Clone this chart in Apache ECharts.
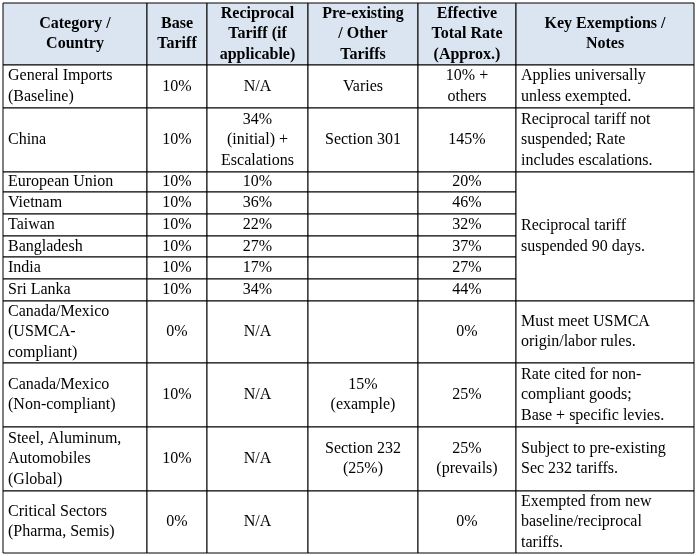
<!DOCTYPE html>
<html><head><meta charset="utf-8">
<script src="https://cdn.jsdelivr.net/npm/echarts@6/dist/echarts.min.js"></script>
<style>html,body{margin:0;padding:0;background:#fff}#c{width:697px;height:556px}</style>
</head><body><div id="c"></div>
<script>
// table content
const headers = ['Category /\nCountry', 'Base\nTariff', 'Reciprocal\nTariff (if\napplicable)', 'Pre-existing\n/ Other\nTariffs', 'Effective\nTotal Rate\n(Approx.)', 'Key Exemptions /\nNotes'];
const categories = ['General Imports\n(Baseline)', 'China', 'European Union', 'Vietnam', 'Taiwan', 'Bangladesh', 'India', 'Sri Lanka', 'Canada/Mexico\n(USMCA-\ncompliant)', 'Canada/Mexico\n(Non-compliant)', 'Steel, Aluminum,\nAutomobiles\n(Global)', 'Critical Sectors\n(Pharma, Semis)'];
const baseTariff = ['10%', '10%', '10%', '10%', '10%', '10%', '10%', '10%', '0%', '10%', '10%', '0%'];
const reciprocal = ['N/A', '34%\n(initial) +\nEscalations', '10%', '36%', '22%', '27%', '17%', '34%', 'N/A', 'N/A', 'N/A', 'N/A'];
const preExisting = ['Varies', 'Section 301', '', '', '', '', '', '', '', '15%\n(example)', 'Section 232\n(25%)', ''];
const effective = ['10% +\nothers', '145%', '20%', '46%', '32%', '37%', '27%', '44%', '0%', '25%', '25%\n(prevails)', '0%'];
// notes: [text, first row, row span]
const notes = [
  ['Applies universally\nunless exempted.', 0, 1],
  ['Reciprocal tariff not\nsuspended; Rate\nincludes escalations.', 1, 1],
  ['Reciprocal tariff\nsuspended 90 days.', 2, 6],
  ['Must meet USMCA\norigin/labor rules.', 8, 1],
  ['Rate cited for non-\ncompliant goods;\nBase + specific levies.', 9, 1],
  ['Subject to pre-existing\nSec 232 tariffs.', 10, 1],
  ['Exempted from new\nbaseline/reciprocal\ntariffs.', 11, 1]
];

// layout
const colX = [3, 147, 207, 308, 418, 516, 694];
const rowY = [3, 65, 108, 172, 192, 214, 236, 257, 279, 301, 363, 427, 491, 553];
const font = '"Liberation Serif", "Times New Roman", serif';

const g = [];
function cell(c0, c1, r0, r1, text, align, bold, fill) {
  const x = colX[c0], y = rowY[r0], w = colX[c1] - x, h = rowY[r1] - y;
  g.push({ type: 'rect', shape: { x, y, width: w, height: h },
    style: { fill: fill || '#fff', stroke: '#000', lineWidth: 1 }, z: 1 });
  if (!text) return;
  g.push({ type: 'text', z: 2,
    x: align === 'left' ? x + 5 : x + w / 2, y: y + h / 2,
    style: { text, font: (bold ? 'bold ' : '') + '16px ' + font, fill: '#000',
      align: align, verticalAlign: 'middle', lineHeight: 20.5 } });
}
headers.forEach((t, i) => cell(i, i + 1, 0, 1, t, 'center', true, '#dbe5f1'));
const cols = [categories, baseTariff, reciprocal, preExisting, effective];
categories.forEach((_, r) => {
  cols.forEach((arr, c) => cell(c, c + 1, r + 1, r + 2, arr[r], c === 0 ? 'left' : 'center', false));
});
notes.forEach(([t, r, s]) => cell(5, 6, r + 1, r + 1 + s, t, 'left', false));

const chart = echarts.init(document.getElementById('c'));
chart.setOption({ animation: false, graphic: { elements: g } });
</script></body></html>
